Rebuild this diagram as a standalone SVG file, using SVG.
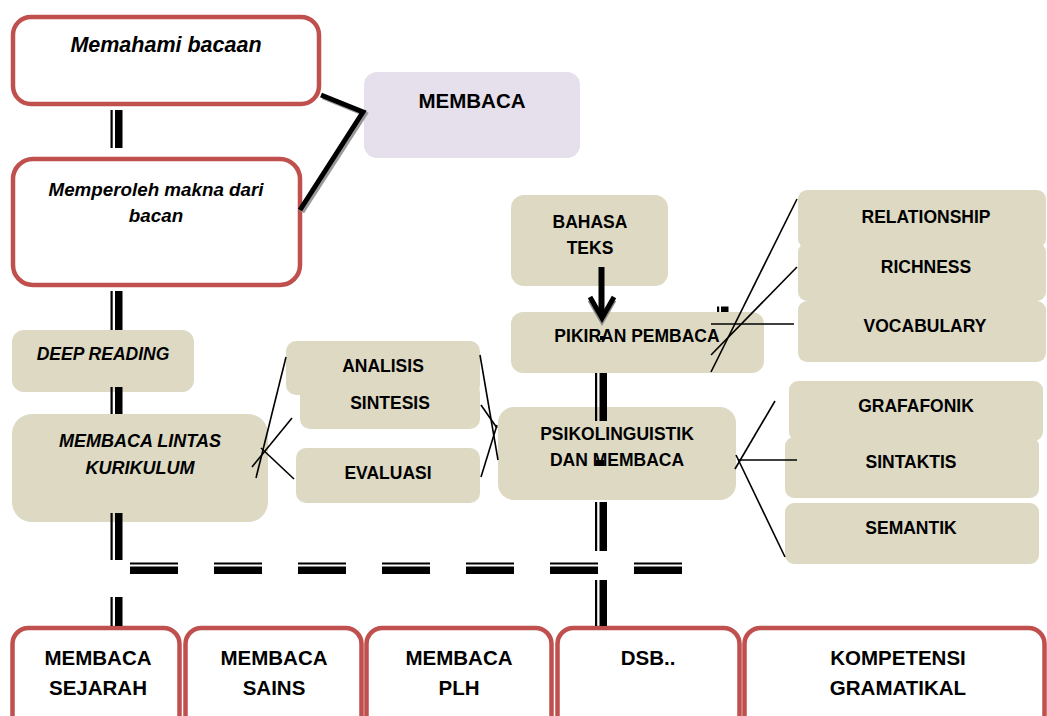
<svg xmlns="http://www.w3.org/2000/svg" width="1047" height="716" viewBox="0 0 1047 716">
<style>
.red{fill:#fff;stroke:#C0504D;stroke-width:4.5}
.tan{fill:#DDD9C3}
.lav{fill:#E5E0EC}
.t{font-family:"Liberation Sans",Arial,sans-serif;font-weight:bold;text-anchor:middle;fill:#000;font-size:17.5px}
.i{font-style:italic}
.b{font-size:20.5px}
.ln{stroke:#000;stroke-width:1.6;fill:none}
.dl{fill:#000}
</style>
<rect width="1047" height="716" fill="#fff"/>
<g id="n-memahami"><rect class="red" x="13" y="17" width="306" height="87" rx="18"/><text class="t i" x="166" y="52" style="font-size:21.5px">Memahami bacaan</text></g>
<g id="n-membaca"><rect class="lav" x="364" y="72" width="216" height="86" rx="13"/><text class="t" x="472" y="108" style="font-size:20.5px">MEMBACA</text></g>
<g id="n-memperoleh"><rect class="red" x="13" y="159" width="287" height="126" rx="20"/><text class="t i" x="156" y="196" style="font-size:18.8px">Memperoleh makna dari</text><text class="t i" x="156" y="222" style="font-size:18.8px">bacan</text></g>
<g id="n-deep"><rect class="tan" x="12" y="330" width="182" height="62" rx="12"/><text class="t i" x="103" y="360">DEEP READING</text></g>
<g id="n-lintas"><rect class="tan" x="12" y="414" width="256" height="108" rx="20"/><text class="t i" x="140" y="447" style="font-size:18px">MEMBACA LINTAS</text><text class="t i" x="140" y="474" style="font-size:18px">KURIKULUM</text></g>
<g id="n-analisis"><rect class="tan" x="286" y="341" width="194" height="54" rx="10"/><text class="t" x="383" y="372">ANALISIS</text></g>
<g id="n-sintesis"><rect class="tan" x="300" y="382" width="180" height="47" rx="10"/><text class="t" x="390" y="409">SINTESIS</text></g>
<g id="n-evaluasi"><rect class="tan" x="296" y="448" width="184" height="55" rx="10"/><text class="t" x="388" y="479">EVALUASI</text></g>
<g id="n-bahasa"><rect class="tan" x="511" y="195" width="157" height="91" rx="13"/><text class="t" x="590" y="228">BAHASA</text><text class="t" x="590" y="254">TEKS</text></g>
<g id="n-pikiran"><rect class="tan" x="511" y="312" width="253" height="61" rx="12"/><text class="t" x="637" y="342">PIKIRAN PEMBACA</text></g>
<g id="n-psiko"><rect class="tan" x="498" y="407" width="238" height="93" rx="16"/><text class="t" x="617" y="440">PSIKOLINGUISTIK</text><text class="t" x="617" y="466">DAN MEMBACA</text></g>
<g id="n-relationship"><rect class="tan" x="798" y="190" width="248" height="58" rx="9"/><text class="t" x="926" y="223">RELATIONSHIP</text></g>
<g id="n-richness"><rect class="tan" x="798" y="243" width="248" height="58" rx="9"/><text class="t" x="926" y="273">RICHNESS</text></g>
<g id="n-vocabulary"><rect class="tan" x="798" y="301" width="248" height="61" rx="9"/><text class="t" x="925" y="332">VOCABULARY</text></g>
<g id="n-grafafonik"><rect class="tan" x="789" y="381" width="254" height="60" rx="9"/><text class="t" x="916" y="412">GRAFAFONIK</text></g>
<g id="n-sintaktis"><rect class="tan" x="785" y="437" width="254" height="61" rx="9"/><text class="t" x="911" y="468">SINTAKTIS</text></g>
<g id="n-semantik"><rect class="tan" x="785" y="503" width="254" height="61" rx="9"/><text class="t" x="911" y="534">SEMANTIK</text></g>
<g id="n-sejarah"><rect class="red" x="12.5" y="628" width="167" height="120" rx="16"/><text class="t b" x="98" y="665">MEMBACA</text><text class="t b" x="98" y="695">SEJARAH</text></g>
<g id="n-sains"><rect class="red" x="185.5" y="628" width="176" height="120" rx="16"/><text class="t b" x="274" y="665">MEMBACA</text><text class="t b" x="274" y="695">SAINS</text></g>
<g id="n-plh"><rect class="red" x="366.5" y="628" width="185" height="120" rx="16"/><text class="t b" x="459" y="665">MEMBACA</text><text class="t b" x="459" y="695">PLH</text></g>
<g id="n-dsb"><rect class="red" x="557.5" y="628" width="182" height="120" rx="16"/><text class="t b" x="648" y="665">DSB..</text></g>
<g id="n-kompetensi"><rect class="red" x="744.5" y="628" width="300" height="120" rx="16"/><text class="t b" x="898" y="665">KOMPETENSI</text><text class="t b" x="898" y="695">GRAMATIKAL</text></g>
<g id="connectors">
<polyline points="323,97 365,114 302,212" fill="none" stroke="#999" stroke-width="5"/>
<polyline points="321,95 363,112 300,210" fill="none" stroke="#000" stroke-width="5"/>
<g class="dl">
<rect x="110.5" y="110" width="2.2" height="38"/><rect x="115" y="110" width="7.5" height="38"/>
<rect x="110.5" y="291" width="2.2" height="39"/><rect x="115" y="291" width="7.5" height="39"/>
<rect x="110.5" y="387" width="2.2" height="27"/><rect x="115" y="387" width="7.5" height="27"/>
<rect x="110.5" y="513" width="2.2" height="47"/><rect x="115" y="513" width="7.5" height="47"/>
<rect x="110.5" y="597" width="2.2" height="29"/><rect x="115" y="597" width="7.5" height="29"/>
<rect x="595" y="373" width="2.2" height="48"/><rect x="599.5" y="373" width="7.5" height="48"/>
<rect x="595" y="502" width="2.2" height="49"/><rect x="599.5" y="502" width="7.5" height="49"/>
<rect x="595" y="580" width="2.2" height="46"/><rect x="599.5" y="580" width="7.5" height="46"/>
<rect x="717" y="306.5" width="2.2" height="5.5"/><rect x="721" y="306.5" width="7.5" height="5.5"/>
<rect x="600" y="336" width="5" height="4"/>
<rect x="596" y="460" width="8" height="6"/>
<rect x="130" y="562.5" width="48" height="2"/><rect x="130" y="566.5" width="48" height="7.5"/>
<rect x="214" y="562.5" width="48" height="2"/><rect x="214" y="566.5" width="48" height="7.5"/>
<rect x="298" y="562.5" width="48" height="2"/><rect x="298" y="566.5" width="48" height="7.5"/>
<rect x="382" y="562.5" width="48" height="2"/><rect x="382" y="566.5" width="48" height="7.5"/>
<rect x="466" y="562.5" width="48" height="2"/><rect x="466" y="566.5" width="48" height="7.5"/>
<rect x="550" y="562.5" width="48" height="2"/><rect x="550" y="566.5" width="48" height="7.5"/>
<rect x="634" y="562.5" width="48" height="2"/><rect x="634" y="566.5" width="48" height="7.5"/>
</g>
<line x1="601.5" y1="267" x2="601.5" y2="314" stroke="#000" stroke-width="6"/>
<path d="M590,300 L602,321 L614,300" fill="none" stroke="#888" stroke-width="5"/>
<path d="M590,297 L602,318 L614,297" fill="none" stroke="#000" stroke-width="5"/>
<line class="ln" x1="286" y1="357" x2="256" y2="478"/>
<line class="ln" x1="292" y1="418" x2="252" y2="467"/>
<line class="ln" x1="294" y1="479" x2="261" y2="448"/>
<line class="ln" x1="480" y1="355" x2="498" y2="460"/>
<line class="ln" x1="481" y1="405" x2="497" y2="428"/>
<line class="ln" x1="481" y1="477" x2="497" y2="425"/>
<line class="ln" x1="797" y1="199" x2="711" y2="372"/>
<line class="ln" x1="797" y1="267" x2="711" y2="355"/>
<line class="ln" x1="711" y1="324" x2="794" y2="324"/>
<line class="ln" x1="735" y1="469" x2="775" y2="401"/>
<line class="ln" x1="738" y1="460" x2="797" y2="460"/>
<line class="ln" x1="736" y1="455" x2="785" y2="557"/>
</g>
</svg>
